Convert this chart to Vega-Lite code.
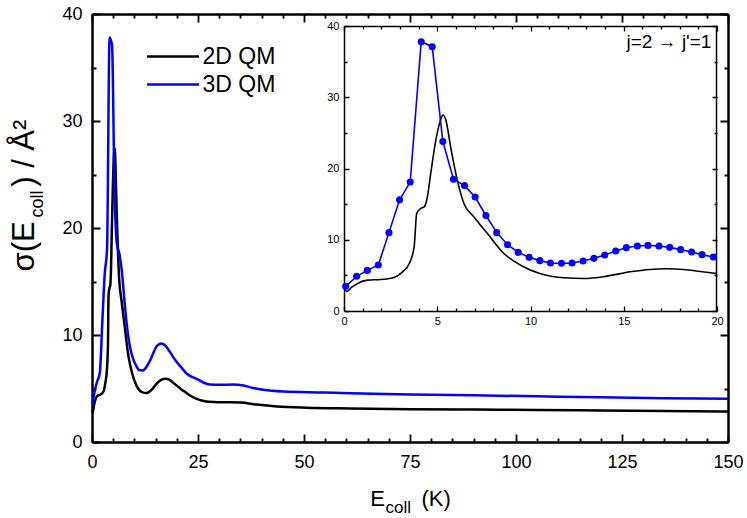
{
 "$schema": "https://vega.github.io/schema/vega-lite/v6.json",
 "width": 636,
 "height": 428,
 "autosize": {"type": "none"},
 "padding": {"left": 92, "top": 14, "right": 19, "bottom": 76},
 "config": {
  "font": "Liberation Sans",
  "view": {"stroke": null},
  "axis": {"domainColor": "black", "labelColor": "black", "titleColor": "black", "gridColor": "black", "gridOpacity": 1, "labelFont": "Liberation Sans", "titleFont": "Liberation Sans", "labelOverlap": false, "labelFlush": false, "titleFontWeight": "normal"}
 },
 "datasets": {
  "curves": [
   {"E": 0.05, "sigma": 3.0, "series": "2D QM"},
   {"E": 0.15, "sigma": 2.75, "series": "2D QM"},
   {"E": 0.4, "sigma": 3.3, "series": "2D QM"},
   {"E": 0.73, "sigma": 3.87, "series": "2D QM"},
   {"E": 1.27, "sigma": 4.33, "series": "2D QM"},
   {"E": 1.98, "sigma": 4.43, "series": "2D QM"},
   {"E": 2.69, "sigma": 4.71, "series": "2D QM"},
   {"E": 3.14, "sigma": 5.5, "series": "2D QM"},
   {"E": 3.5, "sigma": 6.66, "series": "2D QM"},
   {"E": 3.76, "sigma": 9.0, "series": "2D QM"},
   {"E": 3.9, "sigma": 13.7, "series": "2D QM"},
   {"E": 4.12, "sigma": 14.4, "series": "2D QM"},
   {"E": 4.3, "sigma": 14.6, "series": "2D QM"},
   {"E": 4.47, "sigma": 16.0, "series": "2D QM"},
   {"E": 4.65, "sigma": 19.3, "series": "2D QM"},
   {"E": 4.92, "sigma": 23.9, "series": "2D QM"},
   {"E": 5.19, "sigma": 26.9, "series": "2D QM"},
   {"E": 5.31, "sigma": 27.5, "series": "2D QM"},
   {"E": 5.45, "sigma": 26.9, "series": "2D QM"},
   {"E": 5.72, "sigma": 23.0, "series": "2D QM"},
   {"E": 6.08, "sigma": 18.3, "series": "2D QM"},
   {"E": 6.43, "sigma": 15.1, "series": "2D QM"},
   {"E": 6.97, "sigma": 13.2, "series": "2D QM"},
   {"E": 7.68, "sigma": 10.9, "series": "2D QM"},
   {"E": 8.57, "sigma": 8.07, "series": "2D QM"},
   {"E": 9.47, "sigma": 6.43, "series": "2D QM"},
   {"E": 10.5, "sigma": 5.27, "series": "2D QM"},
   {"E": 11.8, "sigma": 4.66, "series": "2D QM"},
   {"E": 12.85, "sigma": 4.57, "series": "2D QM"},
   {"E": 14.1, "sigma": 4.9, "series": "2D QM"},
   {"E": 15.35, "sigma": 5.5, "series": "2D QM"},
   {"E": 16.4, "sigma": 5.83, "series": "2D QM"},
   {"E": 17.3, "sigma": 5.92, "series": "2D QM"},
   {"E": 18.2, "sigma": 5.83, "series": "2D QM"},
   {"E": 19.1, "sigma": 5.55, "series": "2D QM"},
   {"E": 20, "sigma": 5.27, "series": "2D QM"},
   {"E": 21.5, "sigma": 4.8, "series": "2D QM"},
   {"E": 23.1, "sigma": 4.35, "series": "2D QM"},
   {"E": 25, "sigma": 3.98, "series": "2D QM"},
   {"E": 27, "sigma": 3.78, "series": "2D QM"},
   {"E": 30, "sigma": 3.72, "series": "2D QM"},
   {"E": 35, "sigma": 3.69, "series": "2D QM"},
   {"E": 38.8, "sigma": 3.5, "series": "2D QM"},
   {"E": 43.6, "sigma": 3.32, "series": "2D QM"},
   {"E": 50.6, "sigma": 3.2, "series": "2D QM"},
   {"E": 60.8, "sigma": 3.13, "series": "2D QM"},
   {"E": 75, "sigma": 3.07, "series": "2D QM"},
   {"E": 90, "sigma": 3.03, "series": "2D QM"},
   {"E": 105, "sigma": 3.0, "series": "2D QM"},
   {"E": 120, "sigma": 2.95, "series": "2D QM"},
   {"E": 135, "sigma": 2.9, "series": "2D QM"},
   {"E": 150, "sigma": 2.85, "series": "2D QM"},
   {"E": 0.09, "sigma": 3.46, "series": "3D QM"},
   {"E": 0.68, "sigma": 4.87, "series": "3D QM"},
   {"E": 1.25, "sigma": 5.7, "series": "3D QM"},
   {"E": 1.84, "sigma": 6.45, "series": "3D QM"},
   {"E": 2.41, "sigma": 11.0, "series": "3D QM"},
   {"E": 2.98, "sigma": 15.6, "series": "3D QM"},
   {"E": 3.55, "sigma": 18.1, "series": "3D QM"},
   {"E": 4.14, "sigma": 37.8, "series": "3D QM"},
   {"E": 4.73, "sigma": 37.1, "series": "3D QM"},
   {"E": 5.3, "sigma": 23.8, "series": "3D QM"},
   {"E": 5.87, "sigma": 18.5, "series": "3D QM"},
   {"E": 6.46, "sigma": 17.6, "series": "3D QM"},
   {"E": 7.03, "sigma": 16.0, "series": "3D QM"},
   {"E": 7.61, "sigma": 13.4, "series": "3D QM"},
   {"E": 8.19, "sigma": 11.0, "series": "3D QM"},
   {"E": 8.77, "sigma": 9.3, "series": "3D QM"},
   {"E": 9.34, "sigma": 8.23, "series": "3D QM"},
   {"E": 9.93, "sigma": 7.53, "series": "3D QM"},
   {"E": 10.5, "sigma": 7.07, "series": "3D QM"},
   {"E": 11.07, "sigma": 6.73, "series": "3D QM"},
   {"E": 11.66, "sigma": 6.69, "series": "3D QM"},
   {"E": 12.23, "sigma": 6.73, "series": "3D QM"},
   {"E": 12.82, "sigma": 7.01, "series": "3D QM"},
   {"E": 13.4, "sigma": 7.39, "series": "3D QM"},
   {"E": 13.98, "sigma": 7.85, "series": "3D QM"},
   {"E": 14.57, "sigma": 8.42, "series": "3D QM"},
   {"E": 15.14, "sigma": 8.89, "series": "3D QM"},
   {"E": 15.73, "sigma": 9.12, "series": "3D QM"},
   {"E": 16.3, "sigma": 9.21, "series": "3D QM"},
   {"E": 16.89, "sigma": 9.12, "series": "3D QM"},
   {"E": 17.46, "sigma": 8.93, "series": "3D QM"},
   {"E": 18.05, "sigma": 8.61, "series": "3D QM"},
   {"E": 18.64, "sigma": 8.27, "series": "3D QM"},
   {"E": 19.2, "sigma": 7.91, "series": "3D QM"},
   {"E": 19.8, "sigma": 7.57, "series": "3D QM"},
   {"E": 21, "sigma": 7.0, "series": "3D QM"},
   {"E": 22.3, "sigma": 6.4, "series": "3D QM"},
   {"E": 24.7, "sigma": 5.9, "series": "3D QM"},
   {"E": 27.8, "sigma": 5.37, "series": "3D QM"},
   {"E": 30, "sigma": 5.35, "series": "3D QM"},
   {"E": 33.3, "sigma": 5.37, "series": "3D QM"},
   {"E": 35.7, "sigma": 5.28, "series": "3D QM"},
   {"E": 38, "sigma": 5.05, "series": "3D QM"},
   {"E": 40.4, "sigma": 4.88, "series": "3D QM"},
   {"E": 45.1, "sigma": 4.72, "series": "3D QM"},
   {"E": 54.6, "sigma": 4.63, "series": "3D QM"},
   {"E": 60.8, "sigma": 4.56, "series": "3D QM"},
   {"E": 75, "sigma": 4.45, "series": "3D QM"},
   {"E": 90, "sigma": 4.36, "series": "3D QM"},
   {"E": 105, "sigma": 4.27, "series": "3D QM"},
   {"E": 120, "sigma": 4.18, "series": "3D QM"},
   {"E": 135, "sigma": 4.1, "series": "3D QM"},
   {"E": 150, "sigma": 4.04, "series": "3D QM"}
  ]
 },
 "data": {"name": "curves"},
 "layer": [
  {
   "mark": {"type": "point", "opacity": 0},
   "encoding": {
    "x": {"field": "E", "type": "quantitative", "scale": {"domain": [0, 150], "nice": false, "zero": false},
     "axis": {"orient": "top", "values": [0, 25, 50, 75, 100, 125, 150], "domain": false, "labels": false, "ticks": false, "title": null,
      "grid": true, "gridDash": [8, 412, 8, 0], "gridWidth": 1.8}},
    "y": {"field": "sigma", "type": "quantitative", "scale": {"domain": [0, 40], "nice": false},
     "axis": {"orient": "left", "values": [0, 10, 20, 30, 40], "domain": false, "labels": false, "ticks": false, "title": null,
      "grid": true, "gridDash": [8, 620, 8, 0], "gridWidth": 1.8}}
   }
  },
  {
   "mark": {"type": "point", "opacity": 0},
   "encoding": {
    "x": {"field": "E", "type": "quantitative", "scale": {"domain": [0, 150], "nice": false, "zero": false},
     "axis": {"orient": "top", "values": [5,10,15,20,30,35,40,45,55,60,65,70,80,85,90,95,105,110,115,120,130,135,140,145], "domain": false, "labels": false, "ticks": false, "title": null,
      "grid": true, "gridDash": [4, 420, 4, 0], "gridWidth": 1.8}},
    "y": {"field": "sigma", "type": "quantitative", "scale": {"domain": [0, 40], "nice": false},
     "axis": {"orient": "left", "values": [5, 15, 25, 35], "domain": false, "labels": false, "ticks": false, "title": null,
      "grid": true, "gridDash": [4, 628, 4, 0], "gridWidth": 1.8}}
   }
  },
  {
   "transform": [{"filter": "datum.E <= 20"}],
   "mark": {"type": "point", "opacity": 0},
   "encoding": {
    "x": {"field": "E", "type": "quantitative", "scale": {"domain": [0, 20], "range": [252, 625], "nice": false, "zero": false},
     "axis": {"orient": "top", "values": [0, 5, 10, 15, 20], "domain": false, "labels": false, "ticks": false, "title": null,
      "grid": true, "gridDash": [5, 275, 5, 0], "gridWidth": 1.3}},
    "y": {"field": "sigma", "type": "quantitative", "scale": {"domain": [0, 40], "range": [297, 12], "nice": false},
     "axis": {"orient": "left", "values": [0, 10, 20, 30, 40], "domain": false, "labels": false, "ticks": false, "title": null,
      "grid": true, "gridDash": [5, 363, 5, 0], "gridWidth": 1.3}}
   }
  },
  {
   "transform": [{"filter": "datum.E <= 20"}],
   "mark": {"type": "point", "opacity": 0},
   "encoding": {
    "x": {"field": "E", "type": "quantitative", "scale": {"domain": [0, 20], "range": [252, 625], "nice": false, "zero": false},
     "axis": {"orient": "top", "values": [1,2,3,4,6,7,8,9,11,12,13,14,16,17,18,19], "domain": false, "labels": false, "ticks": false, "title": null,
      "grid": true, "gridDash": [3, 279, 3, 0], "gridWidth": 1.3}},
    "y": {"field": "sigma", "type": "quantitative", "scale": {"domain": [0, 40], "range": [297, 12], "nice": false},
     "axis": {"orient": "left", "values": [5, 15, 25, 35], "domain": false, "labels": false, "ticks": false, "title": null,
      "grid": true, "gridDash": [3, 367, 3, 0], "gridWidth": 1.3}}
   }
  },
  {
   "transform": [{"filter": "datum.series === '2D QM'"}],
   "mark": {"type": "line", "strokeWidth": 2.5, "interpolate": "monotone"},
   "encoding": {
    "x": {"field": "E", "type": "quantitative", "scale": {"domain": [0, 150], "nice": false, "zero": false},
     "axis": {"orient": "bottom", "values": [0, 25, 50, 75, 100, 125, 150], "grid": false, "ticks": false,
      "domainWidth": 2, "labelFontSize": 18, "labelPadding": 11, "title": null}},
    "y": {"field": "sigma", "type": "quantitative", "scale": {"domain": [0, 40], "nice": false},
     "axis": {"orient": "left", "values": [0, 10, 20, 30, 40], "grid": false, "ticks": false,
      "domainWidth": 2, "labelFontSize": 18, "labelPadding": 10, "title": null}},
    "color": {"field": "series", "type": "nominal", "scale": {"domain": ["2D QM"], "range": ["#000000"]},
     "legend": {"orient": "none", "legendX": 53.5, "legendY": 15, "title": null, "symbolType": "stroke", "symbolSize": 2700, "symbolStrokeWidth": 2.5, "labelFontSize": 23, "labelFont": "Liberation Sans", "labelColor": "black", "labelOffset": 2, "padding": 0}}
   }
  },
  {
   "transform": [{"filter": "datum.series === '3D QM'"}],
   "mark": {"type": "line", "strokeWidth": 2.5, "interpolate": "monotone"},
   "encoding": {
    "x": {"field": "E", "type": "quantitative", "scale": {"domain": [0, 150], "nice": false, "zero": false},
     "axis": {"orient": "top", "values": [0, 150], "grid": false, "labels": false, "ticks": false, "domainWidth": 2, "title": null}},
    "y": {"field": "sigma", "type": "quantitative", "scale": {"domain": [0, 40], "nice": false},
     "axis": {"orient": "right", "values": [0, 40], "grid": false, "labels": false, "ticks": false, "domainWidth": 2, "title": null}},
    "color": {"field": "series", "type": "nominal", "scale": {"domain": ["3D QM"], "range": ["#0000ff"]},
     "legend": {"orient": "none", "legendX": 53.5, "legendY": 43, "title": null, "symbolType": "stroke", "symbolSize": 2700, "symbolStrokeWidth": 2.5, "labelFontSize": 23, "labelFont": "Liberation Sans", "labelColor": "black", "labelOffset": 2, "padding": 0}}
   }
  },
  {
   "mark": {"type": "point", "opacity": 0},
   "encoding": {
    "x": {"field": "E", "type": "quantitative", "scale": {"domain": [0, 150], "nice": false, "zero": false},
     "axis": {"orient": "bottom", "values": [0, 150], "grid": false, "labels": false, "ticks": false, "domainWidth": 2,
      "title": "E\u00a0\u00a0\u00a0\u00a0\u00a0\u00a0(K)", "titleFontSize": 22, "titleX": 318, "titleY": 63, "titleAlign": "center", "titleBaseline": "alphabetic", "titleAngle": 0}},
    "y": {"field": "sigma", "type": "quantitative", "scale": {"domain": [0, 40], "nice": false},
     "axis": {"orient": "left", "values": [0, 40], "grid": false, "labels": false, "ticks": false, "domainWidth": 2,
      "title": "σ(E\u00a0\u00a0\u00a0\u00a0) / Å²", "titleFontSize": 31, "titleAngle": 270, "titleX": -59, "titleY": 181, "titleAlign": "center", "titleBaseline": "alphabetic"}}
   }
  },
  {
   "mark": {"type": "point", "opacity": 0},
   "encoding": {
    "x": {"field": "E", "type": "quantitative", "scale": {"domain": [0, 150], "nice": false, "zero": false},
     "axis": {"orient": "top", "values": [0, 150], "grid": false, "labels": false, "ticks": false, "domainWidth": 2,
      "title": "coll", "titleFontSize": 17, "titleX": 293, "titleY": 498, "titleAlign": "left", "titleBaseline": "alphabetic", "titleAngle": 0}},
    "y": {"field": "sigma", "type": "quantitative", "scale": {"domain": [0, 40], "nice": false},
     "axis": {"orient": "right", "values": [0, 40], "grid": false, "labels": false, "ticks": false, "domainWidth": 2,
      "title": "coll", "titleFontSize": 18, "titleAngle": 270, "titleX": -686, "titleY": 203, "titleAlign": "left", "titleBaseline": "alphabetic"}}
   }
  },
  {
   "transform": [{"filter": "datum.series === '2D QM' && datum.E <= 20"}],
   "mark": {"type": "line", "color": "#000000", "strokeWidth": 1.6, "interpolate": "monotone"},
   "encoding": {
    "x": {"field": "E", "type": "quantitative", "scale": {"domain": [0, 20], "range": [252, 625], "nice": false, "zero": false},
     "axis": {"orient": "bottom", "offset": -131, "values": [0, 5, 10, 15, 20], "grid": false, "ticks": false,
      "domainWidth": 1.5, "labelFontSize": 11, "labelPadding": 4, "title": null}},
    "y": {"field": "sigma", "type": "quantitative", "scale": {"domain": [0, 40], "range": [297, 12], "nice": false},
     "axis": {"orient": "left", "offset": -252, "values": [0, 10, 20, 30, 40], "grid": false, "ticks": false,
      "domainWidth": 1.5, "labelFontSize": 11, "labelPadding": 5, "title": null}}
   }
  },
  {
   "transform": [{"filter": "datum.series === '3D QM' && datum.E <= 20"}],
   "mark": {"type": "line", "color": "#0000ff", "strokeWidth": 1.6, "point": {"filled": true, "size": 50, "color": "#0000ff"}},
   "encoding": {
    "x": {"field": "E", "type": "quantitative", "scale": {"domain": [0, 20], "range": [252, 625], "nice": false, "zero": false},
     "axis": {"orient": "top", "offset": -12, "values": [0, 20], "grid": false, "labels": false, "ticks": false, "domainWidth": 1.5, "title": null}},
    "y": {"field": "sigma", "type": "quantitative", "scale": {"domain": [0, 40], "range": [297, 12], "nice": false},
     "axis": {"orient": "right", "offset": -12, "values": [0, 40], "grid": false, "labels": false, "ticks": false, "domainWidth": 1.5, "title": null}}
   }
  },
  {
   "data": {"values": [{"label": "j=2 → j'=1"}]},
   "mark": {"type": "text", "align": "right", "baseline": "alphabetic", "fontSize": 19, "font": "Liberation Sans", "color": "black"},
   "encoding": {
    "x": {"datum": 19.7, "type": "quantitative", "scale": {"domain": [0, 20], "range": [252, 625], "nice": false, "zero": false}, "axis": null},
    "y": {"datum": 36.9, "type": "quantitative", "scale": {"domain": [0, 40], "range": [297, 12], "nice": false}, "axis": null},
    "text": {"field": "label"}
   }
  }
 ],
 "resolve": {"scale": {"x": "independent", "y": "independent", "color": "independent"}, "axis": {"x": "independent", "y": "independent"}, "legend": {"color": "independent"}}
}
